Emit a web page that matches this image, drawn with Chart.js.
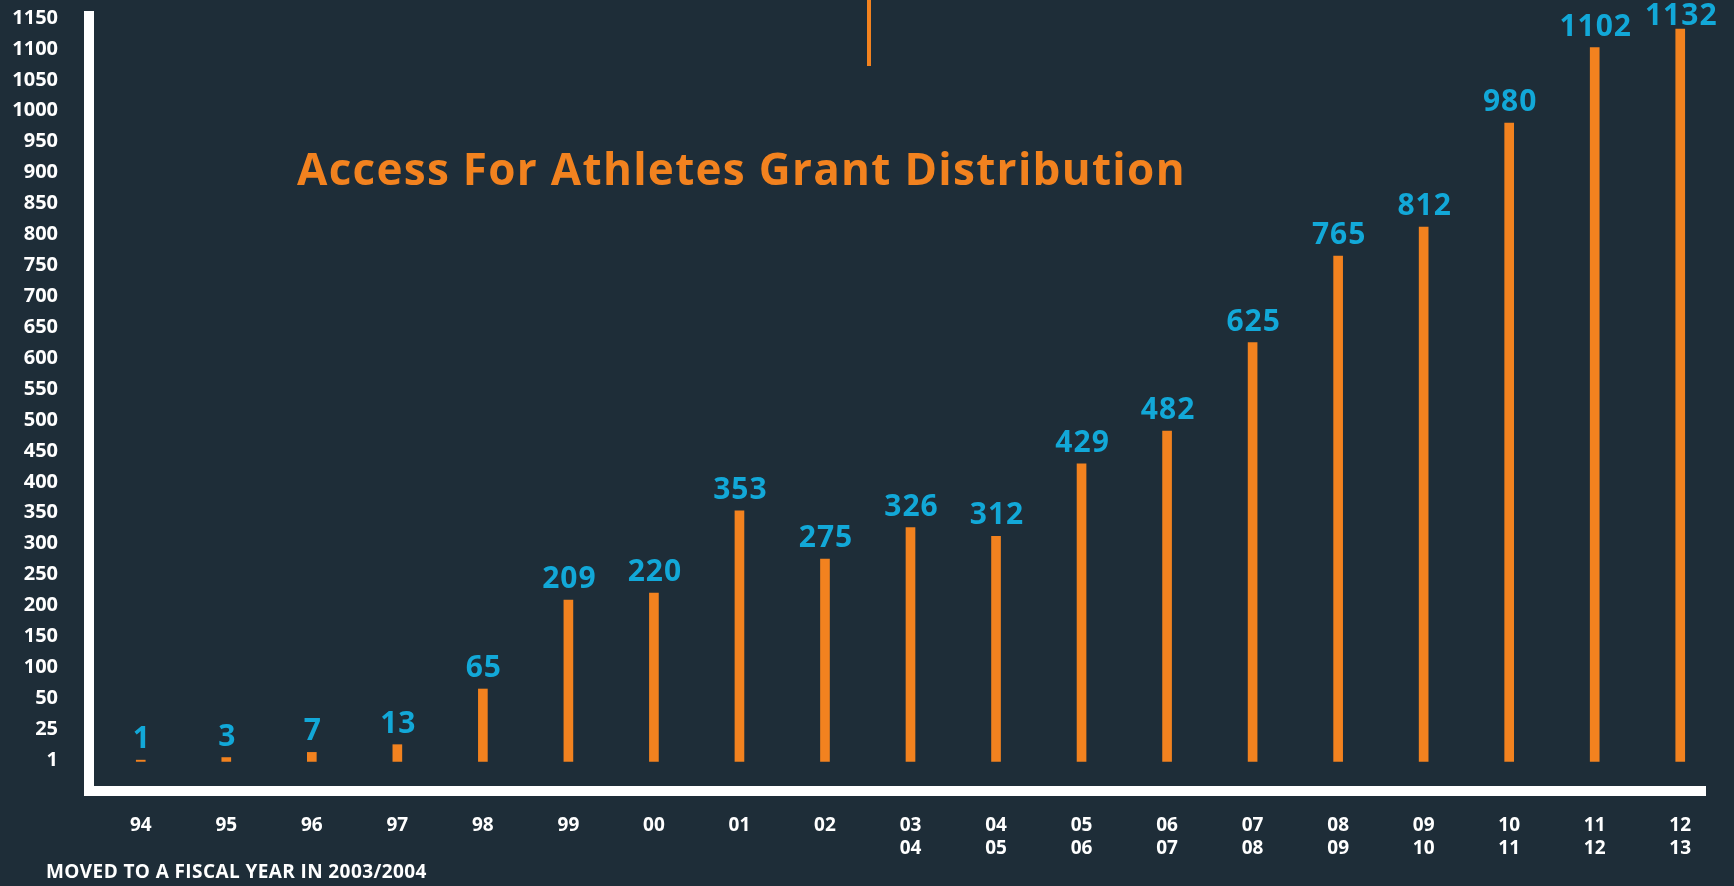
<!DOCTYPE html>
<html>
<head>
<meta charset="utf-8">
<title>Access For Athletes Grant Distribution</title>
<script src="https://cdn.jsdelivr.net/npm/chart.js@4.4.1/dist/chart.umd.min.js"></script>
<style>
  html, body { margin: 0; padding: 0; background: #1e2d38; }
  #wrap { width: 1734px; height: 886px; }
</style>
</head>
<body>
<div id="wrap"><canvas id="chart" width="1734" height="886"></canvas></div>
<script>
// years (fiscal years from 03/04 on)
const years = ['94', '95', '96', '97', '98', '99', '00', '01', '02',
    ['03', '04'], ['04', '05'], ['05', '06'], ['06', '07'], ['07', '08'],
    ['08', '09'], ['09', '10'], ['10', '11'], ['11', '12'], ['12', '13']];

// number of grants per year
const grants = [1, 3, 7, 13, 65, 209, 220, 353, 275, 326, 312, 429, 482, 625, 765, 812, 980, 1102, 1132];

// y axis labels, drawn evenly spaced
const yTicks = [1, 25, 50, 100, 150, 200, 250, 300, 350, 400, 450, 500, 550, 600,
    650, 700, 750, 800, 850, 900, 950, 1000, 1050, 1100, 1150];

const title = 'Access For Athletes Grant Distribution';
const note = 'MOVED TO A FISCAL YEAR IN 2003/2004';

const FONT = '"Open Sans", "DejaVu Sans", sans-serif';
const ORANGE = '#f2821f';
const BLUE = '#12a8d8';
const WHITE = '#ffffff';

// scale where every tick label gets the same space, linear between ticks
class StepScale extends Chart.Scale {
    determineDataLimits() {
        const steps = this.options.steps;
        this.min = this.options.min;
        this.max = steps[steps.length - 1];
    }
    buildTicks() {
        return this.options.steps.map(v => ({ value: v }));
    }
    getLabelForValue(value) {
        return String(value);
    }
    getBaseValue() {
        return this.min;
    }
    toStep(value) {
        const steps = this.options.steps;
        let i = 1;
        while (i < steps.length - 1 && value > steps[i]) i++;
        return i - 1 + (value - steps[i - 1]) / (steps[i] - steps[i - 1]);
    }
    fromStep(step) {
        const steps = this.options.steps;
        let i = Math.min(Math.max(Math.floor(step), 0), steps.length - 2);
        return steps[i] + (step - i) * (steps[i + 1] - steps[i]);
    }
    getPixelForValue(value) {
        const s0 = this.toStep(this.min), s1 = this.toStep(this.max);
        return this.getPixelForDecimal((this.toStep(value) - s0) / (s1 - s0));
    }
    getValueForPixel(pixel) {
        const s0 = this.toStep(this.min), s1 = this.toStep(this.max);
        return this.fromStep(s0 + this.getDecimalForPixel(pixel) * (s1 - s0));
    }
    getPixelForTick(index) {
        return this.getPixelForValue(this.ticks[index].value);
    }
}
StepScale.id = 'step';
StepScale.defaults = {};
Chart.register(StepScale);

const decor = {
    id: 'decor',
    beforeDatasetsDraw(chart) {
        const { ctx, chartArea: a } = chart;
        ctx.save();
        // axis frame
        ctx.fillStyle = WHITE;
        ctx.fillRect(a.left - 14, a.top - 7, 10, a.bottom + 32 - (a.top - 7));
        ctx.fillRect(a.left - 14, a.bottom + 22, a.right - 17 - (a.left - 14), 10);
        // small orange stroke at top
        ctx.fillStyle = ORANGE;
        ctx.fillRect(867, 0, 4, 66);
        // title
        ctx.font = 'bold 44px ' + FONT;
        ctx.letterSpacing = '1.3px';
        ctx.textAlign = 'left';
        ctx.textBaseline = 'alphabetic';
        ctx.fillText(title, 297, 185);
        // footnote
        ctx.fillStyle = WHITE;
        ctx.font = 'bold 19px ' + FONT;
        ctx.letterSpacing = '0.4px';
        ctx.fillText(note, 46, 878);
        ctx.restore();
    },
    afterDatasetsDraw(chart) {
        const { ctx } = chart;
        const meta = chart.getDatasetMeta(0);
        ctx.save();
        ctx.fillStyle = BLUE;
        ctx.font = 'bold 30px ' + FONT;
        ctx.letterSpacing = '1px';
        ctx.textAlign = 'center';
        ctx.textBaseline = 'alphabetic';
        meta.data.forEach((bar, i) => {
            // keep the top label inside the canvas
            ctx.fillText(String(grants[i]), bar.x + 1, Math.max(bar.y - 12, 25));
        });
        ctx.restore();
    }
};

new Chart(document.getElementById('chart'), {
    type: 'bar',
    data: {
        labels: years,
        datasets: [{
            data: grants,
            backgroundColor: ORANGE,
            barThickness: 9
        }]
    },
    options: {
        responsive: false,
        animation: false,
        layout: { padding: { top: 18, right: 11, bottom: 0, left: 0 } },
        plugins: {
            legend: { display: false },
            tooltip: { enabled: false }
        },
        scales: {
            x: {
                type: 'category',
                grid: { display: false, drawTicks: false },
                border: { display: false },
                ticks: {
                    color: WHITE,
                    font: { family: FONT, size: 19, weight: 'bold' },
                    padding: 50,
                    maxRotation: 0,
                    autoSkip: false
                },
                afterFit: scale => {
                    scale.height = 122;
                    scale.paddingLeft = 0;
                    scale.paddingRight = 0;
                }
            },
            y: {
                type: 'step',
                position: 'left',
                steps: yTicks,
                min: -2,
                grid: { display: false, drawTicks: false },
                border: { display: false },
                ticks: {
                    color: WHITE,
                    font: { family: FONT, size: 20, weight: 'bold' },
                    padding: 40,
                    autoSkip: false
                },
                afterFit: scale => {
                    scale.width = 98;
                    scale.paddingTop = 12;
                    scale.paddingBottom = 12;
                }
            }
        }
    },
    plugins: [decor]
});
</script>
</body>
</html>
